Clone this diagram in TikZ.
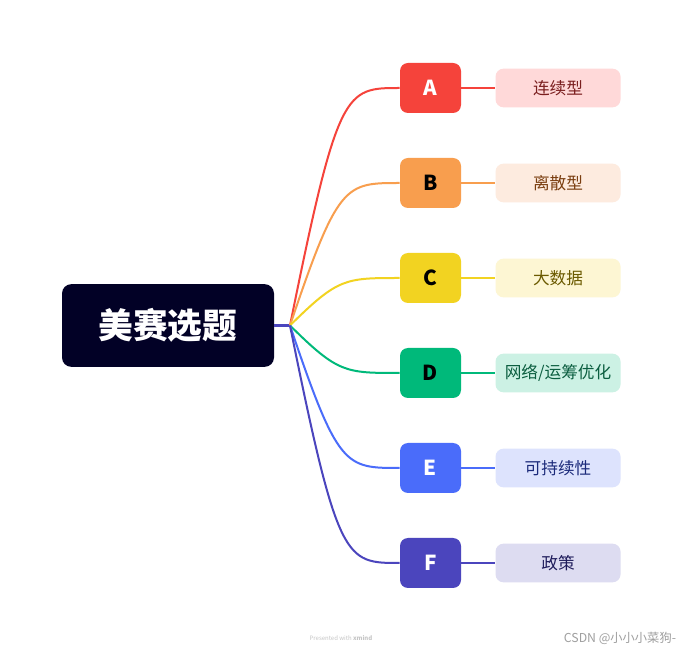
\documentclass[tikz,border=0pt]{standalone}
\usepackage{fontspec}
\setmainfont{Noto Sans CJK SC}
\usetikzlibrary{positioning}

\definecolor{rootbg}{HTML}{020126}
\definecolor{colA}{HTML}{F5433B}\definecolor{lblA}{HTML}{FFD9D9}\definecolor{txtA}{HTML}{7A1E1E}
\definecolor{colB}{HTML}{F89E4E}\definecolor{lblB}{HTML}{FDEBDF}\definecolor{txtB}{HTML}{7A3E10}
\definecolor{colC}{HTML}{F2D321}\definecolor{lblC}{HTML}{FDF6D3}\definecolor{txtC}{HTML}{6B5A00}
\definecolor{colD}{HTML}{00B97A}\definecolor{lblD}{HTML}{CCF1E4}\definecolor{txtD}{HTML}{0B5E40}
\definecolor{colE}{HTML}{4A6CFA}\definecolor{lblE}{HTML}{DDE3FD}\definecolor{txtE}{HTML}{1B2A7A}
\definecolor{colF}{HTML}{4B45BD}\definecolor{lblF}{HTML}{DDDCF1}\definecolor{txtF}{HTML}{1E1B5A}

\tikzset{
  topic/.style={rounded corners=6pt,minimum width=45.75pt,minimum height=37.5pt,inner sep=0pt,
    font=\fontsize{15.5}{15.5}\selectfont\bfseries},
  leaf/.style={rounded corners=6pt,minimum width=93.75pt,minimum height=29pt,inner sep=0pt,
    font=\fontsize{12.5}{12.5}\selectfont},
  branch/.style={line width=1.5pt}
}

\begin{document}
\begin{tikzpicture}[x=0.75pt,y=-0.75pt]
\path[use as bounding box,fill=white] (0,0) rectangle (683,652);

\node[fill=rootbg,text=white,rounded corners=7pt,minimum width=159pt,minimum height=62pt,
  font=\fontsize{26}{26}\selectfont\bfseries] (root) at (168,325.5) {美赛选题};
\coordinate (jn) at (290,325.5);
\draw[line width=2.2pt,colF] (root.east) -- (jn);

\foreach \l/\txt/\y/\lc in {A/连续型/88/white,B/离散型/183/black,C/大数据/278/black,
  D/{网络/运筹优化}/373/black,E/可持续性/468/white,F/政策/563/white}{
  \node[topic,fill=col\l,text=\lc] (\l) at (430.5,\y) {\l};
  \node[leaf,fill=lbl\l,text=txt\l,right=25.5pt of \l] (lbl\l) {\txt};
  \draw[branch,col\l] (jn) .. controls (338,\y) and (345,\y) .. (\l.west);
  \draw[branch,col\l] (\l.east) -- (lbl\l.west);
}

\node[text=gray!45,font=\fontsize{4.5}{4.5}\selectfont] (credit) at (341,638) {Presented with \textbf{xmind}};
\node[text=gray!75,font=\fontsize{9.2}{9.2}\selectfont] (mark) at (620,638) {CSDN @小小小菜狗-};
\end{tikzpicture}
\end{document}
